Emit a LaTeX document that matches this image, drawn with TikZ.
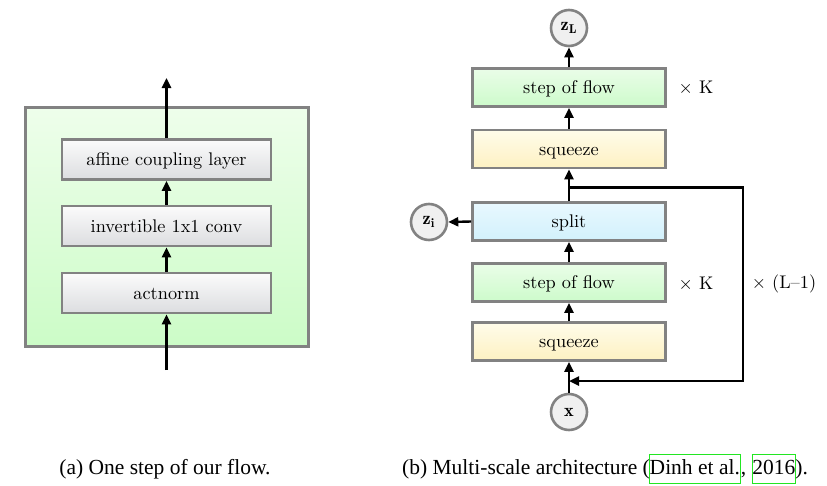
\documentclass[tikz,border=0pt]{standalone}
\usepackage{graphicx}
\usepackage{fontspec}
\newfontfamily\capfont{Liberation Serif}
\usetikzlibrary{arrows.meta}
\definecolor{bordergray}{HTML}{828282}
\definecolor{linkgreen}{HTML}{22E622}
\definecolor{grtop}{HTML}{EAFDE8}\definecolor{grbot}{HTML}{CDFBCB}
\definecolor{yetop}{HTML}{FFFCEA}\definecolor{yebot}{HTML}{FDF1C2}
\definecolor{bltop}{HTML}{E8F8FE}\definecolor{blbot}{HTML}{D2F1FC}
\definecolor{frtop}{HTML}{EEFEEB}\definecolor{frbot}{HTML}{CCFCC7}
\definecolor{gytop}{HTML}{FBFBFB}\definecolor{gybot}{HTML}{DCDDE0}
\newcommand{\bigtxt}[1]{\scalebox{1.83}{#1}}
\newcommand{\linkbox}[1]{\fcolorbox{linkgreen}{white}{\rule[-9pt]{0pt}{28pt}#1}}
\tikzset{
  box/.style={draw=bordergray, line width=2.6pt, inner sep=0pt, minimum height=38pt, text height=13pt, text depth=1pt},
  graybox/.style={box, top color=gytop, bottom color=gybot, minimum width=209pt, minimum height=40pt},
  greenbox/.style={box, top color=grtop, bottom color=grbot, minimum width=193pt},
  yellowbox/.style={box, top color=yetop, bottom color=yebot, minimum width=193pt},
  bluebox/.style={box, top color=bltop, bottom color=blbot, minimum width=193pt},
  circ/.style={circle, draw=bordergray, line width=2.6pt, fill=black!6, minimum size=36pt, inner sep=0pt},
  frameouter/.style={draw=bordergray, line width=3pt, top color=frtop, bottom color=frbot, minimum width=283pt, minimum height=239pt, inner sep=0pt},
  arr/.style={line width=2.4pt, -{Triangle[length=10pt,width=9pt]}},
  plainline/.style={line width=2.4pt},
  lab/.style={inner sep=0pt},
  captext/.style={font=\capfont\fontsize{21.5}{24}\selectfont, inner sep=0pt}
}
\begin{document}
\begin{tikzpicture}[x=1pt,y=-1pt]
\useasboundingbox (0,0) rectangle (827,485);
% ---- left panel
\node[frameouter] (frame) at (166.5,226.5) {};
\node[graybox] (acl) at (166.5,159.5) {\bigtxt{affine coupling layer}};
\node[graybox] (conv) at (166.5,226) {\bigtxt{invertible 1x1 conv}};
\node[graybox] (act) at (166.5,293) {\bigtxt{actnorm}};
\coordinate (inL) at (166.5,370);
\coordinate (outL) at (166.5,78);
\draw[arr] (inL) -- (act.south);
\draw[arr] (act.north) -- (conv.south);
\draw[arr] (conv.north) -- (acl.south);
\draw[arr] (acl.north) -- (outL);
% ---- right panel
\node[circ] (zL) at (569,28) {\bigtxt{$\mathbf{z_L}$}};
\node[greenbox] (sf1) at (569,87.5) {\bigtxt{step of flow}};
\node[yellowbox] (sq1) at (569,149) {\bigtxt{squeeze}};
\node[bluebox] (split) at (569,221.5) {\bigtxt{split}};
\node[circ] (zi) at (429,222) {\bigtxt{$\mathbf{z_i}$}};
\node[greenbox] (sf2) at (569,282.5) {\bigtxt{step of flow}};
\node[yellowbox] (sq2) at (569,341.5) {\bigtxt{squeeze}};
\node[circ] (x) at (569,412) {\bigtxt{$\mathbf{x}$}};
\node[lab] (k1) at (696,88.5) {\bigtxt{$\times$ K}};
\node[lab] (k2) at (696,284) {\bigtxt{$\times$ K}};
\node[lab] (kl) at (784,284) {\bigtxt{$\times$ (L--1)}};
\draw[arr] (x.north) -- (sq2.south);
\draw[arr] (sq2.north) -- (sf2.south);
\draw[arr] (sf2.north) -- (split.south);
\draw[arr] (split.north) -- (sq1.south);
\draw[arr] (split.west) -- (zi.east);
\draw[arr] (sq1.north) -- (sf1.south);
\draw[arr] (sf1.north) -- (zL.south);
\coordinate (b1) at (569,187.5);
\coordinate (c1) at (743,187.5);
\coordinate (c2) at (743,381);
\coordinate (b2) at (569,381);
\draw[plainline, -{Triangle[length=10pt,width=9pt]}] (b1) -- (c1) -- (c2) -- (b2);
% ---- captions
\setlength{\fboxrule}{0.9pt}\setlength{\fboxsep}{0pt}
\node[captext, anchor=base] (capa) at (165,474) {(a) One step of our flow.};
\node[captext, anchor=base] (capb) at (605,474) {(b) Multi-scale architecture (\kern-1pt\linkbox{Dinh et al.}, \linkbox{2016}\kern-1pt).};
\end{tikzpicture}
\end{document}
